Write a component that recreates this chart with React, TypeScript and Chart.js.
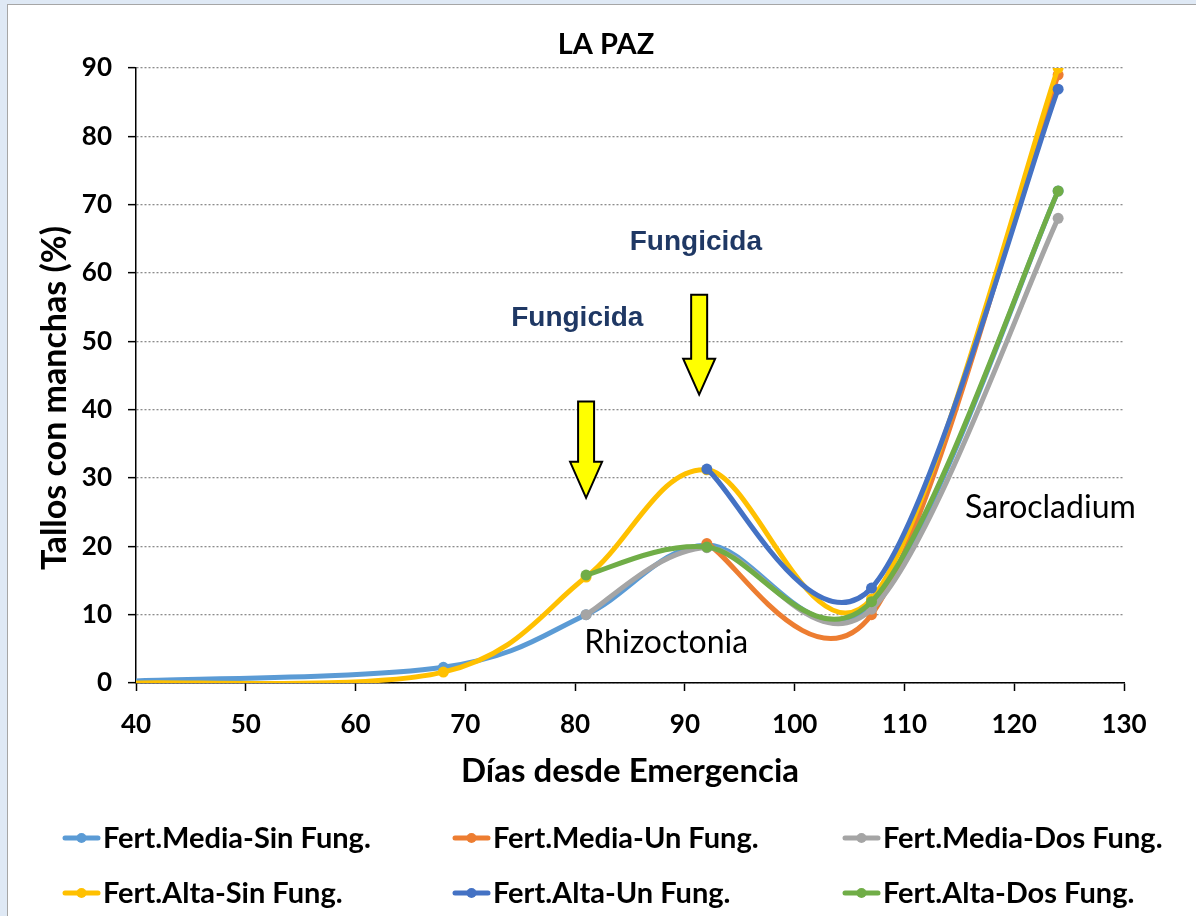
import React, { useEffect, useRef } from "react";
import { Chart, registerables } from "chart.js";

Chart.register(...registerables);

// ---- Data ----
const days = [40, 68, 81, 92, 107, 124];
const seriesNames = [
  "Fert.Media-Sin Fung.",
  "Fert.Media-Un Fung.",
  "Fert.Media-Dos Fung.",
  "Fert.Alta-Sin Fung.",
  "Fert.Alta-Un Fung.",
  "Fert.Alta-Dos Fung.",
];
const mediaSin = [0.3, 2.3, 10.0, 20.2, 11.4, 72.0];
const mediaUn = [null, null, null, 20.4, 10.0, 89.0];
const mediaDos = [null, null, 10.0, 19.8, 10.8, 68.0];
const altaSin = [0.0, 1.6, 15.5, 31.2, 12.3, 90.0];
const altaUn = [null, null, null, 31.3, 13.9, 86.9];
const altaDos = [null, null, 15.8, 19.9, 11.9, 72.0];
const seriesValues = [mediaSin, mediaUn, mediaDos, altaSin, altaUn, altaDos];
const seriesColors = ["#5B9BD5", "#ED7D31", "#A5A5A5", "#FFC000", "#4472C4", "#70AD47"];

const xMin = 40;
const xMax = 130;
const xStep = 10;
const yMin = 0;
const yMax = 90;
const yStep = 10;

const chartTitle = "LA PAZ";
const xTitle = "Días desde Emergencia";
const yTitle = "Tallos con manchas (%)";

// annotations (data coordinates)
const arrowX = [81, 91.3];
const arrowTop = [41.2, 56.8];
const arrowTip = [27.1, 42.2];
const fungText = ["Fungicida", "Fungicida"];
const fungX = [80.2, 91.0];
const fungY = [53.4, 64.5];
const diseaseText = ["Rhizoctonia", "Sarocladium"];
const diseaseX = [88.3, 123.3];
const diseaseY = [5.9, 25.6];

const BOLD = "'Lato', 'DejaVu Sans', sans-serif";

// Spreadsheet-style smoothing: Catmull-Rom tangents (1/6 of neighbour chord).
const smoothPlugin = {
  id: "sheetSmooth",
  beforeDatasetsDraw(chart: any) {
    chart.data.datasets.forEach((_d: any, di: number) => {
      const meta = chart.getDatasetMeta(di);
      const pts = meta.data;
      const n = pts.length;
      for (let i = 0; i < n; i++) {
        const p = pts[i];
        const prev = pts[i - 1] || p;
        const next = pts[i + 1] || p;
        const vx = (next.x - prev.x) / 6;
        const vy = (next.y - prev.y) / 6;
        p.cp1x = p.x - vx;
        p.cp1y = p.y - vy;
        p.cp2x = p.x + vx;
        p.cp2y = p.y + vy;
      }
      if (meta.dataset) {
        meta.dataset._pointsUpdated = true;
        meta.dataset._path = undefined;
      }
    });
  },
};

const annotationPlugin = {
  id: "annotations",
  afterDraw(chart: any) {
    const ctx = chart.ctx;
    const xs = chart.scales.x;
    const ys = chart.scales.y;
    ctx.save();
    // chart title
    ctx.textAlign = "center";
    ctx.textBaseline = "middle";
    ctx.fillStyle = "#000";
    ctx.font = "bold 29px " + BOLD;
    ctx.fillText(chartTitle, chart.width / 2 + 4, 40);
    // arrows
    for (let i = 0; i < arrowX.length; i++) {
      const cx = xs.getPixelForValue(arrowX[i]);
      const top = ys.getPixelForValue(arrowTop[i]);
      const tip = ys.getPixelForValue(arrowTip[i]);
      const headLen = 36;
      const sw = 8;
      const hw = 16;
      ctx.beginPath();
      ctx.moveTo(cx - sw, top);
      ctx.lineTo(cx + sw, top);
      ctx.lineTo(cx + sw, tip - headLen);
      ctx.lineTo(cx + hw, tip - headLen);
      ctx.lineTo(cx, tip);
      ctx.lineTo(cx - hw, tip - headLen);
      ctx.lineTo(cx - sw, tip - headLen);
      ctx.closePath();
      ctx.fillStyle = "#FFFF00";
      ctx.fill();
      ctx.lineWidth = 2;
      ctx.strokeStyle = "#000000";
      ctx.lineJoin = "miter";
      ctx.stroke();
    }
    // Fungicida labels
    ctx.fillStyle = "#1F3864";
    ctx.font = "bold 28px 'Liberation Sans', Arial, sans-serif";
    for (let i = 0; i < fungText.length; i++) {
      ctx.fillText(fungText[i], xs.getPixelForValue(fungX[i]), ys.getPixelForValue(fungY[i]));
    }
    // disease labels
    ctx.fillStyle = "#000000";
    ctx.font = "32px 'Lato', sans-serif";
    for (let i = 0; i < diseaseText.length; i++) {
      ctx.fillText(diseaseText[i], xs.getPixelForValue(diseaseX[i]), ys.getPixelForValue(diseaseY[i]));
    }
    // y axis title
    ctx.save();
    ctx.translate(47, 393);
    ctx.rotate(-Math.PI / 2);
    ctx.font = "bold 34px " + BOLD;
    ctx.fillStyle = "#000";
    ctx.fillText(yTitle, 0, 0);
    ctx.restore();
    // legend
    const colX = [55, 445, 835];
    const rowY = [833, 888];
    ctx.font = "bold 29px " + BOLD;
    ctx.textAlign = "left";
    for (let i = 0; i < seriesNames.length; i++) {
      const x = colX[i % 3];
      const y = rowY[Math.floor(i / 3)];
      ctx.strokeStyle = seriesColors[i];
      ctx.lineWidth = 5;
      ctx.lineCap = "round";
      ctx.beginPath();
      ctx.moveTo(x + 2, y);
      ctx.lineTo(x + 35, y);
      ctx.stroke();
      ctx.beginPath();
      ctx.arc(x + 18.5, y, 5, 0, Math.PI * 2);
      ctx.fillStyle = seriesColors[i];
      ctx.fill();
      ctx.fillStyle = "#000";
      ctx.fillText(seriesNames[i], x + 40, y + 1);
    }
    ctx.restore();
  },
};

export default function App() {
  const ref = useRef<HTMLCanvasElement | null>(null);
  useEffect(() => {
    if (!ref.current) return;
    const datasets = seriesValues.map((vals, i) => ({
      label: seriesNames[i],
      data: days
        .map((d, j) => ({ x: d, y: vals[j] }))
        .filter((p) => p.y !== null),
      borderColor: seriesColors[i],
      backgroundColor: seriesColors[i],
      borderWidth: 5,
      pointRadius: (c: any) => (c.raw && c.raw.x === xMin ? 0 : 5.5),
      pointBorderWidth: 0,
      pointHoverRadius: 5.5,
      tension: 0.4,
      fill: false,
      order: seriesValues.length - 1 - i,
    }));
    const chart = new Chart(ref.current, {
      type: "line",
      data: { datasets },
      plugins: [smoothPlugin, annotationPlugin],
      options: {
        animation: false,
        responsive: false,
        devicePixelRatio: 1,
        layout: { padding: { left: 0, right: 72, top: 63, bottom: 125 } },
        plugins: {
          legend: { display: false },
          tooltip: { enabled: false },
          title: { display: false },
        },
        scales: {
          x: {
            type: "linear",
            min: xMin,
            max: xMax,
            afterFit: (s: any) => {
              s.height = 108;
            },
            ticks: {
              stepSize: xStep,
              color: "#000",
              padding: 18,
              font: { family: BOLD, size: 26, weight: "bold" },
              maxRotation: 0,
            },
            grid: {
              drawOnChartArea: false,
              tickLength: 8,
              tickColor: "#000",
              tickWidth: 1.5,
            },
            border: { color: "#000", width: 1.5 },
            title: {
              display: true,
              text: xTitle,
              color: "#000",
              font: { family: BOLD, size: 33, weight: "bold" },
              padding: { top: 0, bottom: 0 },
            },
          },
          y: {
            type: "linear",
            min: yMin,
            max: yMax,
            afterFit: (s: any) => {
              s.width = 128;
            },
            ticks: {
              stepSize: yStep,
              color: "#000",
              padding: 16,
              font: { family: BOLD, size: 26, weight: "bold" },
            },
            grid: {
              color: "#8c8c8c",
              lineWidth: 1.3,
              tickLength: 8,
              tickColor: "#000",
              tickWidth: 1.5,
            },
            border: { color: "#000", width: 1.5, dash: [2, 2] },
          },
        },
      } as any,
    });
    return () => chart.destroy();
  }, []);

  return (
    <div
      style={{
        position: "fixed",
        left: 0,
        top: 0,
        width: 1196,
        height: 916,
        background: "#dfe9f5",
        overflow: "hidden",
      }}
    >
      <div
        style={{
          position: "absolute",
          left: 7,
          top: 4,
          width: 1189,
          height: 912,
          background: "#ffffff",
          borderLeft: "1px solid #a6a6a6",
          borderTop: "1px solid #a6a6a6",
        }}
      >
        <canvas
          ref={ref}
          width={1188}
          height={911}
          style={{ display: "block", width: 1188, height: 911 }}
        />
      </div>
    </div>
  );
}
